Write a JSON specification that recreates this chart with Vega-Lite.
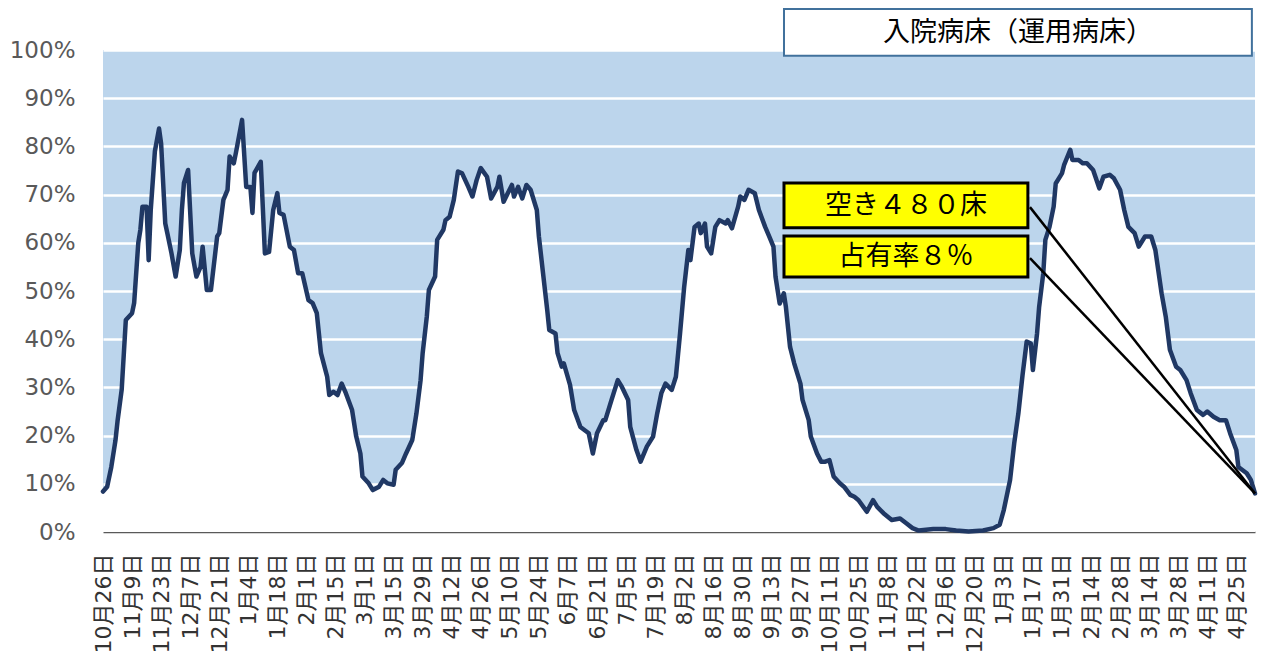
{
  "$schema": "https://vega.github.io/schema/vega-lite/v6.json",
  "width": 1152,
  "height": 482,
  "autosize": {"type": "none"},
  "padding": {"left": 103, "top": 50, "right": 9, "bottom": 131},
  "background": "white",
  "config": {"view": {"fill": "#BCD5EC", "stroke": null}},
  "resolve": {"axis": {"x": "independent", "y": "independent"}},
  "data": {"values": [
    {"date":"2020-10-26","rate":0.084},{"date":"2020-10-28","rate":0.094},{"date":"2020-10-30","rate":0.135},{"date":"2020-11-01","rate":0.19},{"date":"2020-11-02","rate":0.23},{"date":"2020-11-04","rate":0.295},{"date":"2020-11-06","rate":0.44},{"date":"2020-11-09","rate":0.454},{"date":"2020-11-10","rate":0.475},{"date":"2020-11-12","rate":0.60},{"date":"2020-11-13","rate":0.627},{"date":"2020-11-14","rate":0.675},{"date":"2020-11-16","rate":0.675},{"date":"2020-11-17","rate":0.564},{"date":"2020-11-18","rate":0.668},{"date":"2020-11-20","rate":0.79},{"date":"2020-11-22","rate":0.837},{"date":"2020-11-23","rate":0.806},{"date":"2020-11-25","rate":0.64},{"date":"2020-11-26","rate":0.62},{"date":"2020-11-28","rate":0.578},{"date":"2020-11-30","rate":0.53},
    {"date":"2020-12-02","rate":0.585},{"date":"2020-12-03","rate":0.668},{"date":"2020-12-04","rate":0.724},{"date":"2020-12-06","rate":0.751},{"date":"2020-12-08","rate":0.578},{"date":"2020-12-10","rate":0.53},{"date":"2020-12-12","rate":0.55},{"date":"2020-12-13","rate":0.592},{"date":"2020-12-15","rate":0.502},{"date":"2020-12-17","rate":0.502},{"date":"2020-12-20","rate":0.613},{"date":"2020-12-21","rate":0.62},{"date":"2020-12-23","rate":0.689},{"date":"2020-12-25","rate":0.71},{"date":"2020-12-26","rate":0.779},{"date":"2020-12-28","rate":0.765},{"date":"2020-12-29","rate":0.786},
    {"date":"2021-01-01","rate":0.855},{"date":"2021-01-03","rate":0.716},{"date":"2021-01-05","rate":0.716},{"date":"2021-01-06","rate":0.662},{"date":"2021-01-07","rate":0.745},{"date":"2021-01-10","rate":0.768},{"date":"2021-01-12","rate":0.578},{"date":"2021-01-14","rate":0.581},{"date":"2021-01-16","rate":0.668},{"date":"2021-01-18","rate":0.703},{"date":"2021-01-19","rate":0.662},{"date":"2021-01-21","rate":0.658},{"date":"2021-01-24","rate":0.592},{"date":"2021-01-26","rate":0.585},{"date":"2021-01-28","rate":0.537},{"date":"2021-01-30","rate":0.537},
    {"date":"2021-02-02","rate":0.481},{"date":"2021-02-04","rate":0.475},{"date":"2021-02-06","rate":0.454},{"date":"2021-02-08","rate":0.371},{"date":"2021-02-11","rate":0.322},{"date":"2021-02-12","rate":0.284},{"date":"2021-02-14","rate":0.291},{"date":"2021-02-16","rate":0.284},{"date":"2021-02-18","rate":0.308},{"date":"2021-02-20","rate":0.288},{"date":"2021-02-23","rate":0.253},{"date":"2021-02-25","rate":0.198},{"date":"2021-02-27","rate":0.163},{"date":"2021-02-28","rate":0.115},
    {"date":"2021-03-03","rate":0.101},{"date":"2021-03-05","rate":0.087},{"date":"2021-03-08","rate":0.094},{"date":"2021-03-10","rate":0.108},{"date":"2021-03-12","rate":0.101},{"date":"2021-03-15","rate":0.098},{"date":"2021-03-16","rate":0.129},{"date":"2021-03-19","rate":0.143},{"date":"2021-03-21","rate":0.163},{"date":"2021-03-24","rate":0.191},{"date":"2021-03-26","rate":0.246},{"date":"2021-03-28","rate":0.315},{"date":"2021-03-29","rate":0.371},{"date":"2021-03-31","rate":0.447},
    {"date":"2021-04-01","rate":0.502},{"date":"2021-04-04","rate":0.53},{"date":"2021-04-05","rate":0.606},{"date":"2021-04-08","rate":0.627},{"date":"2021-04-09","rate":0.647},{"date":"2021-04-11","rate":0.654},{"date":"2021-04-13","rate":0.689},{"date":"2021-04-15","rate":0.748},{"date":"2021-04-17","rate":0.744},{"date":"2021-04-20","rate":0.716},{"date":"2021-04-22","rate":0.696},{"date":"2021-04-24","rate":0.73},{"date":"2021-04-26","rate":0.755},{"date":"2021-04-29","rate":0.737},
    {"date":"2021-05-01","rate":0.692},{"date":"2021-05-04","rate":0.716},{"date":"2021-05-05","rate":0.737},{"date":"2021-05-07","rate":0.685},{"date":"2021-05-09","rate":0.703},{"date":"2021-05-11","rate":0.72},{"date":"2021-05-12","rate":0.696},{"date":"2021-05-14","rate":0.716},{"date":"2021-05-16","rate":0.692},{"date":"2021-05-18","rate":0.72},{"date":"2021-05-20","rate":0.71},{"date":"2021-05-23","rate":0.668},{"date":"2021-05-24","rate":0.613},{"date":"2021-05-26","rate":0.537},{"date":"2021-05-28","rate":0.461},{"date":"2021-05-29","rate":0.419},
    {"date":"2021-06-01","rate":0.412},{"date":"2021-06-02","rate":0.371},{"date":"2021-06-04","rate":0.343},{"date":"2021-06-05","rate":0.35},{"date":"2021-06-08","rate":0.305},{"date":"2021-06-10","rate":0.253},{"date":"2021-06-13","rate":0.218},{"date":"2021-06-17","rate":0.205},{"date":"2021-06-19","rate":0.163},{"date":"2021-06-21","rate":0.205},{"date":"2021-06-24","rate":0.232},{"date":"2021-06-25","rate":0.232},{"date":"2021-06-28","rate":0.274},
    {"date":"2021-07-01","rate":0.315},{"date":"2021-07-03","rate":0.301},{"date":"2021-07-06","rate":0.274},{"date":"2021-07-07","rate":0.218},{"date":"2021-07-10","rate":0.17},{"date":"2021-07-12","rate":0.146},{"date":"2021-07-15","rate":0.177},{"date":"2021-07-18","rate":0.198},{"date":"2021-07-20","rate":0.246},{"date":"2021-07-22","rate":0.288},{"date":"2021-07-24","rate":0.308},{"date":"2021-07-27","rate":0.295},{"date":"2021-07-29","rate":0.322},{"date":"2021-07-31","rate":0.412},
    {"date":"2021-08-02","rate":0.509},{"date":"2021-08-04","rate":0.585},{"date":"2021-08-05","rate":0.564},{"date":"2021-08-07","rate":0.633},{"date":"2021-08-09","rate":0.64},{"date":"2021-08-10","rate":0.62},{"date":"2021-08-12","rate":0.64},{"date":"2021-08-13","rate":0.592},{"date":"2021-08-15","rate":0.578},{"date":"2021-08-17","rate":0.633},{"date":"2021-08-19","rate":0.647},{"date":"2021-08-22","rate":0.64},{"date":"2021-08-23","rate":0.647},{"date":"2021-08-25","rate":0.63},{"date":"2021-08-28","rate":0.675},{"date":"2021-08-29","rate":0.696},{"date":"2021-08-31","rate":0.689},
    {"date":"2021-09-02","rate":0.71},{"date":"2021-09-05","rate":0.703},{"date":"2021-09-07","rate":0.668},{"date":"2021-09-10","rate":0.633},{"date":"2021-09-12","rate":0.613},{"date":"2021-09-14","rate":0.592},{"date":"2021-09-15","rate":0.53},{"date":"2021-09-17","rate":0.474},{"date":"2021-09-19","rate":0.495},{"date":"2021-09-20","rate":0.467},{"date":"2021-09-22","rate":0.384},{"date":"2021-09-24","rate":0.35},{"date":"2021-09-27","rate":0.308},{"date":"2021-09-28","rate":0.274},
    {"date":"2021-10-01","rate":0.232},{"date":"2021-10-02","rate":0.198},{"date":"2021-10-05","rate":0.163},{"date":"2021-10-07","rate":0.146},{"date":"2021-10-09","rate":0.146},{"date":"2021-10-11","rate":0.149},{"date":"2021-10-13","rate":0.115},{"date":"2021-10-16","rate":0.101},{"date":"2021-10-18","rate":0.094},{"date":"2021-10-21","rate":0.077},{"date":"2021-10-23","rate":0.073},{"date":"2021-10-25","rate":0.066},{"date":"2021-10-29","rate":0.042},
    {"date":"2021-11-01","rate":0.066},{"date":"2021-11-03","rate":0.052},{"date":"2021-11-06","rate":0.039},{"date":"2021-11-10","rate":0.025},{"date":"2021-11-14","rate":0.028},{"date":"2021-11-17","rate":0.018},{"date":"2021-11-20","rate":0.008},{"date":"2021-11-23","rate":0.003},{"date":"2021-11-30","rate":0.006},
    {"date":"2021-12-06","rate":0.006},{"date":"2021-12-11","rate":0.003},{"date":"2021-12-17","rate":0.001},{"date":"2021-12-24","rate":0.003},{"date":"2021-12-29","rate":0.008},
    {"date":"2022-01-01","rate":0.015},{"date":"2022-01-03","rate":0.046},{"date":"2022-01-06","rate":0.108},{"date":"2022-01-08","rate":0.184},{"date":"2022-01-10","rate":0.246},{"date":"2022-01-12","rate":0.325},{"date":"2022-01-14","rate":0.395},{"date":"2022-01-16","rate":0.391},{"date":"2022-01-17","rate":0.336},{"date":"2022-01-19","rate":0.412},{"date":"2022-01-20","rate":0.467},{"date":"2022-01-22","rate":0.537},{"date":"2022-01-23","rate":0.606},{"date":"2022-01-25","rate":0.633},{"date":"2022-01-27","rate":0.675},{"date":"2022-01-28","rate":0.723},{"date":"2022-01-31","rate":0.744},
    {"date":"2022-02-01","rate":0.761},{"date":"2022-02-04","rate":0.793},{"date":"2022-02-05","rate":0.772},{"date":"2022-02-08","rate":0.772},{"date":"2022-02-10","rate":0.765},{"date":"2022-02-12","rate":0.765},{"date":"2022-02-15","rate":0.751},{"date":"2022-02-18","rate":0.713},{"date":"2022-02-20","rate":0.737},{"date":"2022-02-23","rate":0.741},{"date":"2022-02-25","rate":0.734},{"date":"2022-02-28","rate":0.71},
    {"date":"2022-03-02","rate":0.668},{"date":"2022-03-04","rate":0.633},{"date":"2022-03-07","rate":0.62},{"date":"2022-03-09","rate":0.592},{"date":"2022-03-12","rate":0.613},{"date":"2022-03-15","rate":0.613},{"date":"2022-03-17","rate":0.585},{"date":"2022-03-20","rate":0.495},{"date":"2022-03-22","rate":0.447},{"date":"2022-03-24","rate":0.378},{"date":"2022-03-27","rate":0.343},{"date":"2022-03-29","rate":0.336},
    {"date":"2022-04-01","rate":0.315},{"date":"2022-04-03","rate":0.288},{"date":"2022-04-06","rate":0.253},{"date":"2022-04-09","rate":0.243},{"date":"2022-04-11","rate":0.25},{"date":"2022-04-14","rate":0.239},{"date":"2022-04-17","rate":0.232},{"date":"2022-04-20","rate":0.232},{"date":"2022-04-22","rate":0.205},{"date":"2022-04-25","rate":0.17},{"date":"2022-04-26","rate":0.135},{"date":"2022-04-30","rate":0.122},{"date":"2022-05-02","rate":0.108},{"date":"2022-05-04","rate":0.08}
  ]},
  "layer": [
    {
      "mark": {"type": "area", "color": "white", "interpolate": "linear"},
      "encoding": {
        "x": {
          "field": "date", "type": "temporal",
          "scale": {"type": "utc", "nice": false, "domain": [1603670400000, 1651622400000]},
          "axis": {
            "title": null,
            "values": [1603670400000,1604880000000,1606089600000,1607299200000,1608508800000,1609718400000,1610928000000,1612137600000,1613347200000,1614556800000,1615766400000,1616976000000,1618185600000,1619395200000,1620604800000,1621814400000,1623024000000,1624233600000,1625443200000,1626652800000,1627862400000,1629072000000,1630281600000,1631491200000,1632700800000,1633910400000,1635120000000,1636329600000,1637539200000,1638748800000,1639958400000,1641168000000,1642377600000,1643587200000,1644796800000,1646006400000,1647216000000,1648425600000,1649635200000,1650844800000],
            "labelExpr": "utcFormat(datum.value, '%-m月%-d日')",
            "labelAngle": -90,
            "labelFont": "DejaVu Sans, Noto Sans CJK JP",
            "labelFontSize": 22,
            "labelColor": "#333333",
            "labelPadding": 21,
            "labelFlush": false,
            "labelOverlap": false,
            "labelBound": false,
            "ticks": false,
            "grid": false,
            "domain": true,
            "domainColor": "#595959",
            "domainWidth": 1.5
          }
        },
        "y": {
          "field": "rate", "type": "quantitative", "stack": null,
          "scale": {"domain": [0, 1], "nice": false, "zero": true},
          "axis": {
            "title": null,
            "values": [0, 0.1, 0.2, 0.3, 0.4, 0.5, 0.6, 0.7, 0.8, 0.9, 1],
            "format": ".0%",
            "labelFont": "DejaVu Sans",
            "labelFontSize": 23,
            "labelColor": "#595959",
            "labelPadding": 28,
            "ticks": false,
            "domain": false,
            "grid": true,
            "gridColor": "white",
            "gridWidth": 2.5,
            "gridOpacity": 1
          }
        }
      }
    },
    {
      "mark": {"type": "line", "color": "#203864", "strokeWidth": 4.5, "strokeJoin": "round", "strokeCap": "round"},
      "encoding": {
        "x": {"field": "date", "type": "temporal", "axis": null},
        "y": {"field": "rate", "type": "quantitative", "axis": null}
      }
    },
    {
      "data": {"values": [{}]},
      "mark": {"type": "rule", "color": "black", "strokeWidth": 2.5},
      "encoding": {
        "x": {"datum": 1642255200000, "type": "temporal", "axis": null},
        "y": {"datum": 0.674, "type": "quantitative", "axis": null},
        "x2": {"datum": 1651622400000},
        "y2": {"datum": 0.08}
      }
    },
    {
      "data": {"values": [{}]},
      "mark": {"type": "rule", "color": "black", "strokeWidth": 2.5},
      "encoding": {
        "x": {"datum": 1642255200000, "type": "temporal", "axis": null},
        "y": {"datum": 0.568, "type": "quantitative", "axis": null},
        "x2": {"datum": 1651622400000},
        "y2": {"datum": 0.08}
      }
    },
    {
      "data": {"values": [{}]},
      "mark": {"type": "rect", "fill": "#FFFF00", "stroke": "black", "strokeWidth": 3},
      "encoding": {
        "x": {"datum": 1632016800000, "type": "temporal", "axis": null},
        "x2": {"datum": 1642168800000},
        "y": {"datum": 0.724, "type": "quantitative", "axis": null},
        "y2": {"datum": 0.631}
      }
    },
    {
      "data": {"values": [{}]},
      "mark": {"type": "rect", "fill": "#FFFF00", "stroke": "black", "strokeWidth": 3},
      "encoding": {
        "x": {"datum": 1632016800000, "type": "temporal", "axis": null},
        "x2": {"datum": 1642168800000},
        "y": {"datum": 0.614, "type": "quantitative", "axis": null},
        "y2": {"datum": 0.529}
      }
    },
    {
      "data": {"values": [{}]},
      "mark": {"type": "text", "text": "空き４８０床", "font": "Noto Sans CJK JP", "fontSize": 27, "color": "black", "align": "center", "baseline": "middle"},
      "encoding": {
        "x": {"datum": 1637100000000, "type": "temporal", "axis": null},
        "y": {"datum": 0.676, "type": "quantitative", "axis": null}
      }
    },
    {
      "data": {"values": [{}]},
      "mark": {"type": "text", "text": "占有率８％", "font": "Noto Sans CJK JP", "fontSize": 27, "color": "black", "align": "center", "baseline": "middle"},
      "encoding": {
        "x": {"datum": 1637100000000, "type": "temporal", "axis": null},
        "y": {"datum": 0.571, "type": "quantitative", "axis": null}
      }
    },
    {
      "data": {"values": [{}]},
      "mark": {"type": "rect", "fill": "white", "stroke": "#41719C", "strokeWidth": 2},
      "encoding": {
        "x": {"datum": 1632016800000, "type": "temporal", "axis": null},
        "x2": {"datum": 1651492800000},
        "y": {"datum": 1.085, "type": "quantitative", "axis": null},
        "y2": {"datum": 0.988}
      }
    },
    {
      "data": {"values": [{}]},
      "mark": {"type": "text", "text": "入院病床（運用病床）", "font": "Noto Sans CJK JP", "fontSize": 27, "color": "black", "align": "center", "baseline": "middle"},
      "encoding": {
        "x": {"datum": 1641754800000, "type": "temporal", "axis": null},
        "y": {"datum": 1.036, "type": "quantitative", "axis": null}
      }
    }
  ]
}
